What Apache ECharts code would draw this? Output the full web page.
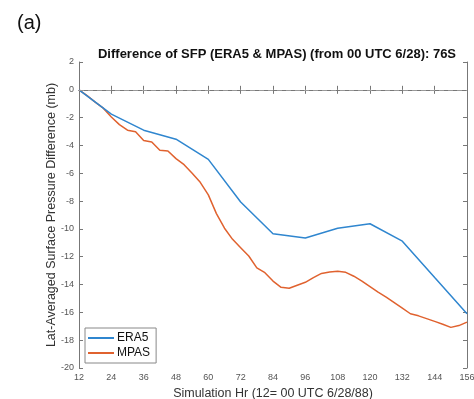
<!DOCTYPE html>
<html style="height: 100%">
<head>
<meta charset="utf-8">
<script src="https://cdn.jsdelivr.net/npm/echarts@6/dist/echarts.min.js"></script>
</head>
<body style="height: 100%; margin: 0; background: #fff">
<div id="container" style="width: 474px; height: 399px"></div>
<script>
// simulation hours and lat-averaged SFP difference (mb)
var era5Hours = [12, 24, 36, 48, 60, 72, 84, 96, 108, 120, 132, 144, 156];
var era5Values = [0, -1.75, -2.9, -3.55, -5.0, -8.06, -10.35, -10.66, -9.95, -9.63, -10.88, -13.5, -16.1];

var mpasHours = [12, 15, 18, 21, 24, 27, 30, 33, 36, 39, 42, 45, 48, 51, 54, 57, 60, 63, 66, 69, 72,
    75, 78, 81, 84, 87, 90, 93, 96, 99, 102, 105, 108, 111, 114, 117, 120, 123, 126, 129, 132,
    135, 138, 141, 144, 147, 150, 153, 156];
var mpasValues = [0, -0.42, -0.88, -1.32, -1.95, -2.5, -2.9, -3.02, -3.65, -3.75, -4.35, -4.4, -4.95,
    -5.38, -6.0, -6.65, -7.55, -8.9, -9.95, -10.75, -11.35, -11.95, -12.8, -13.15, -13.75, -14.2,
    -14.27, -14.05, -13.84, -13.5, -13.2, -13.1, -13.05, -13.12, -13.4, -13.75, -14.15, -14.55,
    -14.9, -15.3, -15.7, -16.1, -16.25, -16.45, -16.65, -16.85, -17.08, -16.95, -16.7];

var seriesNames = ['ERA5', 'MPAS'];
var seriesColors = ['#2f86cf', '#e0622f'];

function pairs(xs, ys) {
    return xs.map(function (x, i) { return [x, ys[i]]; });
}

var dom = document.getElementById('container');
var myChart = echarts.init(dom, null, { renderer: 'canvas' });

var axisLine = { show: true, lineStyle: { color: '#777', width: 1 } };
var tick = { show: true, inside: true, length: 4, lineStyle: { color: '#777' } };
var tickLabel = { color: '#555', fontSize: 9, fontFamily: 'Liberation Sans' };

var option = {
    backgroundColor: '#fff',
    animation: false,
    title: [
        {
            text: '(a)',
            left: 12,
            top: 8,
            textStyle: { fontSize: 20, fontWeight: 'normal', color: '#111', fontFamily: 'Liberation Sans' }
        },
        {
            text: 'Difference of SFP (ERA5 & MPAS) (from 00 UTC 6/28): 76S',
            left: 272,
            textAlign: 'center',
            top: 43,
            textStyle: { fontSize: 13, fontWeight: 'bold', color: '#111', fontFamily: 'Liberation Sans' }
        }
    ],
    legend: {
        orient: 'vertical',
        left: 85,
        top: 328,
        padding: [4, 6, 4, 3],
        itemGap: 3,
        itemWidth: 26,
        itemHeight: 2,
        icon: 'rect',
        borderColor: '#888',
        borderWidth: 1,
        backgroundColor: '#fff',
        textStyle: { fontSize: 12, color: '#111', fontFamily: 'Liberation Sans', padding: [0, 0, 0, -2] },
        data: seriesNames
    },
    grid: { left: 79, right: 7, top: 62, bottom: 31, outerBoundsMode: 'none' },
    xAxis: [
        {
            type: 'value',
            min: 12, max: 156, interval: 12,
            name: 'Simulation Hr (12= 00 UTC 6/28/88)',
            nameLocation: 'middle',
            nameGap: 16,
            nameTextStyle: { fontSize: 12.5, color: '#333', fontFamily: 'Liberation Sans' },
            axisLine: axisLine,
            axisTick: tick,
            axisLabel: Object.assign({ margin: 5 }, tickLabel),
            splitLine: { show: false }
        },
        {
            type: 'value', position: 'top',
            min: 12, max: 156, interval: 12,
            axisLine: axisLine, axisTick: tick,
            axisLabel: { show: false }, splitLine: { show: false }
        }
    ],
    yAxis: [
        {
            type: 'value',
            min: -20, max: 2, interval: 2,
            name: 'Lat-Averaged Surface Pressure Difference (mb)',
            nameLocation: 'middle',
            nameMoveOverlap: false,
            nameGap: 21,
            nameTextStyle: { fontSize: 12.5, color: '#333', fontFamily: 'Liberation Sans' },
            axisLine: axisLine,
            axisTick: tick,
            axisLabel: Object.assign({ margin: 5 }, tickLabel),
            splitLine: { show: false }
        },
        {
            type: 'value', position: 'right',
            min: -20, max: 2, interval: 2,
            axisLine: axisLine, axisTick: tick,
            axisLabel: { show: false }, splitLine: { show: false }
        }
    ],
    series: [
        {
            name: seriesNames[0],
            type: 'line',
            data: pairs(era5Hours, era5Values),
            showSymbol: false,
            color: seriesColors[0],
            lineStyle: { width: 1.5 },
            z: 3,
            markLine: {
                silent: true,
                symbol: 'none',
                label: { show: false },
                lineStyle: { color: '#999', type: [5, 4], width: 1.2 },
                data: [{ yAxis: 0 }]
            }
        },
        {
            name: seriesNames[1],
            type: 'line',
            data: pairs(mpasHours, mpasValues),
            showSymbol: false,
            color: seriesColors[1],
            lineStyle: { width: 1.5 },
            z: 2
        }
    ]
};

myChart.setOption(option);
</script>
</body>
</html>
